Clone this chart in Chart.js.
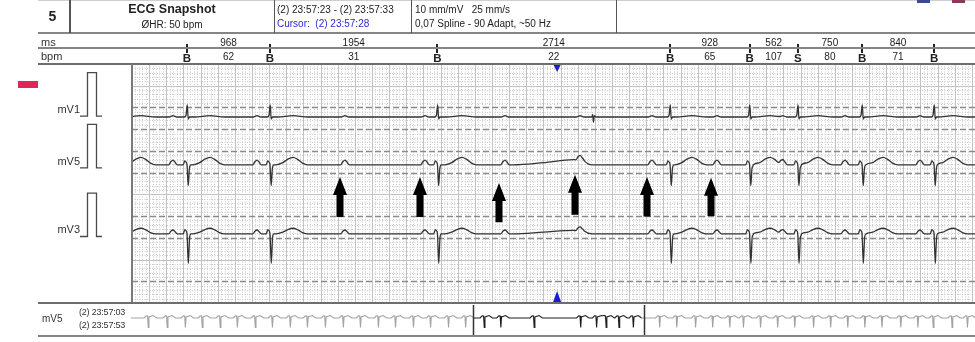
<!DOCTYPE html>
<html><head><meta charset="utf-8">
<script src="https://cdn.jsdelivr.net/npm/chart.js@4.4.1/dist/chart.umd.min.js"></script>
<style>
html,body{margin:0;padding:0;background:#fff;}
body{width:975px;height:342px;position:relative;overflow:hidden;font-family:"Liberation Sans",Arial,sans-serif;color:#222;}
.t{position:absolute;white-space:nowrap;line-height:1;}
.c{transform:translateX(-50%);}
.hl{position:absolute;}
#main{position:absolute;left:0;top:0;}
#strip{position:absolute;left:131px;top:305px;}
</style></head><body>
<canvas id="main" width="975" height="342"></canvas>
<canvas id="strip" width="844" height="30"></canvas>

<div class="hl" style="left:38px;top:0;width:937px;height:1px;background:#cfcfcf"></div>
<div class="hl" style="left:38px;top:32px;width:937px;height:2px;background:#858585"></div>
<div class="hl" style="left:38px;top:47px;width:937px;height:2px;background:#858585"></div>
<div class="hl" style="left:38px;top:63px;width:937px;height:2px;background:#6e6e6e"></div>
<div class="hl" style="left:69px;top:0;width:2px;height:33px;background:#555"></div>
<div class="hl" style="left:274px;top:0;width:1px;height:33px;background:#555"></div>
<div class="hl" style="left:411px;top:0;width:1px;height:33px;background:#555"></div>
<div class="hl" style="left:616px;top:0;width:1px;height:33px;background:#555"></div>
<div class="hl" style="left:131px;top:64px;width:2px;height:239px;background:#7a7a7a"></div>
<div class="hl" style="left:38px;top:302px;width:937px;height:2px;background:#6e6e6e"></div>
<div class="hl" style="left:38px;top:335px;width:937px;height:2px;background:#858585"></div>
<div class="hl" style="left:18px;top:81px;width:20px;height:7px;background:#e2265a"></div>
<div class="hl" style="left:917px;top:0;width:13px;height:3px;background:#3b4a8c"></div>
<div class="hl" style="left:952px;top:0;width:13px;height:3px;background:#8a3a5a"></div>

<div class="t" style="left:35px;width:35px;text-align:center;top:9px;font-size:14px;font-weight:bold;">5</div>
<div class="t c" style="left:172px;top:3px;font-size:12.5px;font-weight:bold;">ECG Snapshot</div>
<div class="t c" style="left:172px;top:20px;font-size:10px;">ØHR: 50 bpm</div>
<div class="t" style="left:277px;top:5px;font-size:10px;">(2) 23:57:23 - (2) 23:57:33</div>
<div class="t" style="left:277px;top:19px;font-size:10px;color:#2a2ad2;">Cursor:&nbsp; (2) 23:57:28</div>
<div class="t" style="left:415px;top:5px;font-size:10px;">10 mm/mV&nbsp;&nbsp; 25 mm/s</div>
<div class="t" style="left:415px;top:19px;font-size:10px;">0,07 Spline - 90 Adapt, ~50 Hz</div>
<div class="t" style="left:41px;top:37px;font-size:11px;color:#333;">ms</div>
<div class="t" style="left:41px;top:51px;font-size:11px;color:#333;">bpm</div>
<div class="t" style="right:895px;top:104px;font-size:11px;color:#333;">mV1</div>
<div class="t" style="right:895px;top:156px;font-size:11px;color:#333;">mV5</div>
<div class="t" style="right:895px;top:224px;font-size:11px;color:#333;">mV3</div>
<div class="t" style="left:42px;top:314px;font-size:10px;color:#333;">mV5</div>
<div class="t" style="left:79px;top:308px;font-size:9px;letter-spacing:-0.2px;color:#333;">(2) 23:57:03</div>
<div class="t" style="left:79px;top:321px;font-size:9px;letter-spacing:-0.2px;color:#333;">(2) 23:57:53</div>

<script>
// ---------- data ----------
const X_MAX_MS = 9836;          // visible time span of the snapshot (ms)
const Y_MAX_MV = 5.5;           // 11 big boxes of 0.5 mV
const beatMs = [642, 1610, 3564, 6278, 7206, 7768, 8518, 9358];
const beatTypes = ['B', 'B', 'B', 'B', 'B', 'S', 'B', 'B'];
const rrLabels = ['968', '1954', '2714', '928', '562', '750', '840'];
const bpmLabels = ['62', '31', '22', '65', '107', '80', '71'];
const pWaveMs = [478, 1459, 2485, 3419, 4352, 5228, 6068, 6826, 7596, 8320, 9195];
const tWaveMs = [105, 910, 1879, 3851, 6535, 7445, 8005, 8763, 9580];
const arrowMs = [2427, 3360, 4282, 5169, 6009, 6756];
const arrowTipMv = [2.90, 2.90, 2.76, 2.95, 2.90, 2.88];
const arrowTailMv = [1.98, 1.98, 1.86, 2.03, 1.99, 2.00];
const cursorMs = 4960;
const leadBaseMv = [4.28, 3.18, 1.59];   // V1, V5, V3
const calBaseMv = [4.30, 3.11, 1.53];
const wanderMs = [5150];
const artifactMsV1 = [5379];
// wave morphologies: [offset ms, mV]
const qrsV1 = [[-30, 0], [-12, 0.04], [3, 0.28], [14, -0.05], [30, 0]];
const qrsV5 = [[-45, 0], [-25, 0.09], [-10, 0.06], [0, 0], [14, -0.48], [28, -0.08], [45, 0]];
const qrsV3 = [[-45, 0], [-25, 0.10], [-10, 0.07], [0, 0], [15, -0.68], [30, -0.08], [45, 0]];
const pV1 = [[-45, 0], [0, 0.03], [45, 0]];
const pV5 = [[-50, 0], [-25, 0.07], [0, 0.11], [25, 0.06], [50, 0]];
const pV3 = [[-50, 0], [-25, 0.06], [0, 0.09], [25, 0.05], [50, 0]];
const tV1 = [[-180, 0], [0, 0.03], [170, 0]];
const tV5 = [[-200, 0], [-120, 0.05], [-60, 0.13], [0, 0.17], [50, 0.13], [110, 0.04], [170, 0]];
const tV3 = [[-200, 0], [-120, 0.04], [-60, 0.10], [0, 0.13], [50, 0.10], [110, 0.03], [170, 0]];
const wanderV5 = [[-700, 0], [-350, 0.05], [0, 0.12], [120, 0.10], [220, 0]];
const wanderV3 = [[-700, 0], [-350, 0.04], [0, 0.08], [120, 0.07], [220, 0]];
const artifactV1 = [[-12, 0], [-4, 0.06], [5, -0.12], [16, 0.03], [35, 0]];
// overview strip (seconds)
const STRIP_MAX_S = 49.36;
const stripHighlightS = [20, 30];
const stripBeatS = [0.99, 2.1, 3.16, 4.15, 5.2, 6.2, 7.25, 8.25, 9.3, 10.3, 11.35, 12.4, 13.4, 14.45, 15.45, 16.5, 17.5, 18.55, 19.55,
  20.64, 21.61, 23.56, 26.28, 27.21, 27.77, 28.52, 29.36,
  30.9, 31.9, 33.0, 34.0, 35.0, 35.8, 36.8, 37.8, 38.8, 39.9, 40.9, 41.9, 42.9, 43.9, 45.0, 46.0, 46.9, 48.0, 48.9];
const stripShape = [[-0.22, 0], [-0.1, 0.22], [-0.02, 0.2], [0.02, -0.95], [0.06, 0.1], [0.3, 0.25], [0.5, 0]];

// ---------- build point tables ----------
function valAt(shape, dt) {
  if (dt < shape[0][0] || dt > shape[shape.length - 1][0]) return 0;
  for (let i = 1; i < shape.length; i++) {
    if (dt <= shape[i][0]) {
      const [t0, v0] = shape[i - 1], [t1, v1] = shape[i];
      return t1 === t0 ? v1 : v0 + (v1 - v0) * (dt - t0) / (t1 - t0);
    }
  }
  return 0;
}
function buildTrace(base, parts, xMax) {
  const ev = [];
  parts.forEach(p => p.times.forEach(t => ev.push({ t, shape: p.shape })));
  const ts = new Set([0, xMax]);
  ev.forEach(e => e.shape.forEach(s => ts.add(+(e.t + s[0]).toFixed(4))));
  const times = [...ts].filter(t => t >= 0 && t <= xMax).sort((a, b) => a - b);
  return times.map(t => ({ x: t, y: base + ev.reduce((s, e) => s + valAt(e.shape, t - e.t), 0) }));
}
const traceV1 = buildTrace(leadBaseMv[0], [
  { times: beatMs, shape: qrsV1 }, { times: pWaveMs, shape: pV1 }, { times: tWaveMs, shape: tV1 },
  { times: artifactMsV1, shape: artifactV1 }], X_MAX_MS);
const traceV5 = buildTrace(leadBaseMv[1], [
  { times: beatMs, shape: qrsV5 }, { times: pWaveMs, shape: pV5 }, { times: tWaveMs, shape: tV5 },
  { times: wanderMs, shape: wanderV5 }], X_MAX_MS);
const traceV3 = buildTrace(leadBaseMv[2], [
  { times: beatMs, shape: qrsV3 }, { times: pWaveMs, shape: pV3 }, { times: tWaveMs, shape: tV3 },
  { times: wanderMs, shape: wanderV3 }], X_MAX_MS);
const stripTrace = buildTrace(0, [{ times: stripBeatS, shape: stripShape }], STRIP_MAX_S);

// ---------- plugins ----------
function seg(ctx, x1, y1, x2, y2) { ctx.beginPath(); ctx.moveTo(x1, y1); ctx.lineTo(x2, y2); ctx.stroke(); }
const darkRowsMv = [4.5, 4.0, 3.5, 3.0, 2.0, 1.5, 0.5];
const ecgPlugin = {
  id: 'ecg',
  beforeDatasetsDraw(chart) {
    const { ctx, chartArea: a, scales: { x, y } } = chart;
    ctx.save();
    ctx.beginPath(); ctx.rect(a.left, a.top, a.right - a.left, a.bottom - a.top); ctx.clip();
    ctx.lineWidth = 1;
    ctx.strokeStyle = '#cccccc'; ctx.setLineDash([1, 1.5]);
    for (let ms = 40; ms < X_MAX_MS; ms += 40) {
      if (ms % 200 === 0) continue;
      const px = Math.round(x.getPixelForValue(ms)) + 0.5; seg(ctx, px, a.top, px, a.bottom);
    }
    for (let k = 1; k < 55; k++) {
      if (k % 5 === 0) continue;
      const py = Math.round(y.getPixelForValue(k / 10)) + 0.5; seg(ctx, a.left, py, a.right, py);
    }
    ctx.setLineDash([]); ctx.strokeStyle = '#c2c2c2';
    for (let ms = 200; ms < X_MAX_MS; ms += 200) {
      const px = Math.round(x.getPixelForValue(ms)) + 0.5; seg(ctx, px, a.top, px, a.bottom);
    }
    for (let k = 1; k < 11; k++) {
      const v = k / 2, py = Math.round(y.getPixelForValue(v)) + 0.5;
      if (darkRowsMv.includes(v)) { ctx.setLineDash([6, 3]); ctx.strokeStyle = '#8a8a8a'; ctx.lineWidth = 1.6; }
      else { ctx.setLineDash([]); ctx.strokeStyle = '#c2c2c2'; ctx.lineWidth = 1; }
      seg(ctx, a.left, py, a.right, py);
    }
    ctx.restore();
  },
  afterDatasetsDraw(chart) {
    const { ctx, scales: { x, y } } = chart;
    ctx.save();
    ctx.fillStyle = '#000';
    arrowMs.forEach((ms, i) => {
      const cx = x.getPixelForValue(ms), tip = y.getPixelForValue(arrowTipMv[i]), tail = y.getPixelForValue(arrowTailMv[i]);
      const hw = 7, sw = 3.5, hh = 18;
      ctx.beginPath(); ctx.moveTo(cx, tip); ctx.lineTo(cx + hw, tip + hh); ctx.lineTo(cx + sw, tip + hh);
      ctx.lineTo(cx + sw, tail); ctx.lineTo(cx - sw, tail); ctx.lineTo(cx - sw, tip + hh); ctx.lineTo(cx - hw, tip + hh);
      ctx.closePath(); ctx.fill();
    });
    const cx = x.getPixelForValue(cursorMs);
    ctx.fillStyle = '#1c1ccf';
    ctx.beginPath(); ctx.moveTo(cx - 4, 64); ctx.lineTo(cx + 4, 64); ctx.lineTo(cx, 72); ctx.closePath(); ctx.fill();
    ctx.beginPath(); ctx.moveTo(cx - 4, 302); ctx.lineTo(cx + 4, 302); ctx.lineTo(cx, 291); ctx.closePath(); ctx.fill();
    ctx.strokeStyle = '#222'; ctx.lineWidth = 2;
    beatMs.forEach(ms => { const px = Math.round(x.getPixelForValue(ms)); seg(ctx, px, 44, px, 53); });
    ctx.strokeStyle = '#4a4a4a'; ctx.lineWidth = 1.3;
    calBaseMv.forEach(b => {
      const y0 = y.getPixelForValue(b), y1 = y.getPixelForValue(b + 1);
      ctx.beginPath(); ctx.moveTo(80, y0); ctx.lineTo(87.5, y0); ctx.lineTo(87.5, y1); ctx.lineTo(96.5, y1);
      ctx.lineTo(96.5, y0); ctx.lineTo(102, y0); ctx.stroke();
    });
    ctx.restore();
  }
};
const lineDs = (data) => ({ data, borderColor: '#333', borderWidth: 1.3, pointRadius: 0, fill: false, cubicInterpolationMode: 'monotone' });
const mainChart = new Chart(document.getElementById('main'), {
  type: 'line',
  data: { datasets: [lineDs(traceV1), lineDs(traceV5), lineDs(traceV3)] },
  options: {
    responsive: false, animation: false, devicePixelRatio: 1,
    layout: { padding: { left: 132, top: 64, right: 0, bottom: 39 } },
    plugins: { legend: { display: false }, tooltip: { enabled: false } },
    scales: {
      x: { type: 'linear', min: 0, max: X_MAX_MS, display: false },
      y: { type: 'linear', min: 0, max: Y_MAX_MV, display: false }
    }
  },
  plugins: [ecgPlugin]
});

const stripPlugin = {
  id: 'stripLines',
  afterDatasetsDraw(chart) {
    const { ctx, scales: { x } } = chart;
    ctx.save(); ctx.strokeStyle = '#333'; ctx.lineWidth = 1.5;
    stripHighlightS.forEach(s => { const px = Math.round(x.getPixelForValue(s)) + 0.5; seg(ctx, px, 0, px, chart.height); });
    ctx.restore();
  }
};
new Chart(document.getElementById('strip'), {
  type: 'line',
  data: { datasets: [{
    data: stripTrace, borderWidth: 1.1, pointRadius: 0, fill: false, tension: 0,
    borderColor: '#a3a3a3',
    segment: { borderColor: c => (c.p0.parsed.x >= stripHighlightS[0] && c.p1.parsed.x <= stripHighlightS[1]) ? '#1e1e1e' : '#a3a3a3' }
  }] },
  options: {
    responsive: false, animation: false, devicePixelRatio: 1,
    layout: { padding: 0 },
    plugins: { legend: { display: false }, tooltip: { enabled: false } },
    scales: {
      x: { type: 'linear', min: 0, max: STRIP_MAX_S, display: false },
      y: { type: 'linear', min: -1.7, max: 1.3, display: false }
    }
  },
  plugins: [stripPlugin]
});

function addText(txt, left, top, size, bold) {
  const d = document.createElement('div');
  d.className = 't c'; d.textContent = txt;
  d.style.left = left + 'px'; d.style.top = top + 'px'; d.style.fontSize = size + 'px';
  if (bold) d.style.fontWeight = 'bold';
  d.style.color = '#222';
  document.body.appendChild(d);
}
const xs = mainChart.scales.x;
beatMs.forEach((ms, i) => addText(beatTypes[i], xs.getPixelForValue(ms), 53, 11.5, true));
rrLabels.forEach((lab, i) => {
  const px = xs.getPixelForValue((beatMs[i] + beatMs[i + 1]) / 2);
  addText(lab, px, 38, 10);
  addText(bpmLabels[i], px, 51.5, 10);
});
</script>
</body></html>
